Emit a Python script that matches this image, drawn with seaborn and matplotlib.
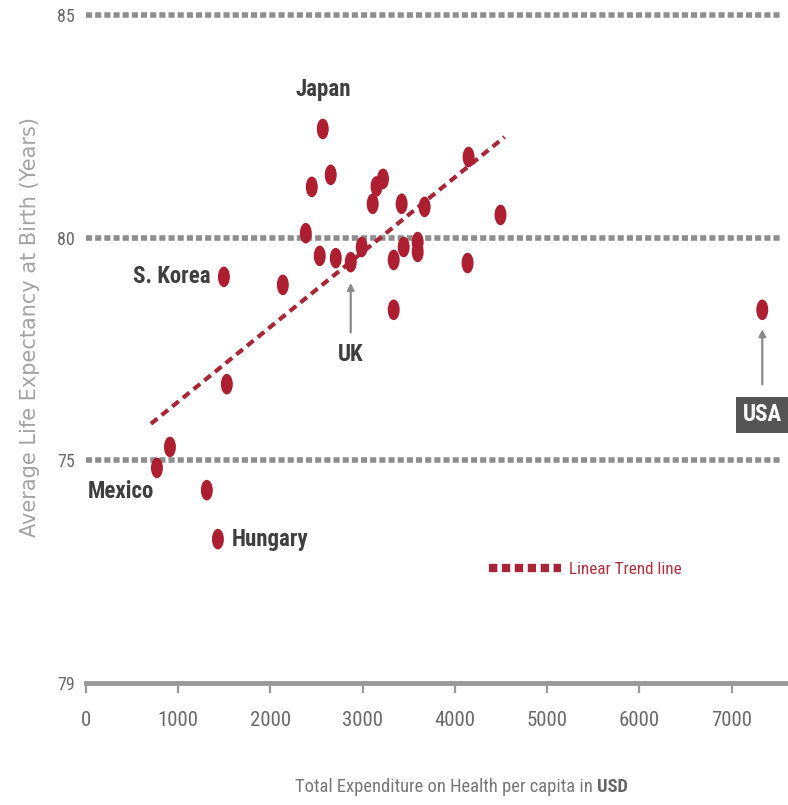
import matplotlib
matplotlib.use("Agg")
import matplotlib.pyplot as plt
import matplotlib.path as mpath
from matplotlib import font_manager
from matplotlib.transforms import Affine2D
from matplotlib.lines import Line2D
import seaborn as sns
import pandas as pd

# ─── Data ─────────────────────────────────────────────────────────────────────
countries = ["Japan", "", "", "", "", "", "", "", "", "", "",
             "", "", "UK", "", "", "", "", "", "", "", "",
             "S. Korea", "", "", "Mexico", "", "Hungary", "USA"]
spend = [2567, 2653, 2448, 3150, 3220, 3108, 3422, 3671, 4148, 4494, 2383,
         2534, 2708, 2870, 2989, 3336, 3444, 3596, 3596, 4137, 2134, 3336,
         1495, 1527, 910, 769, 1310, 1430, 7332]
life_exp = [82.44, 81.41, 81.14, 81.15, 81.32, 80.76, 80.76, 80.69, 81.81, 80.51, 80.10,
            79.59, 79.54, 79.45, 79.79, 79.50, 79.79, 79.90, 79.68, 79.43, 78.94, 78.38,
            79.12, 76.71, 75.30, 74.83, 74.33, 73.23, 78.38]

trend_x = [704, 4538]
trend_y = [75.82, 82.26]

y_ticks = [70, 75, 80, 85]
y_tick_labels = ["79", "75", "80", "85"]   # the source chart prints "79" at the bottom
x_ticks = [0, 1000, 2000, 3000, 4000, 5000, 6000, 7000]

df = pd.DataFrame({"country": countries, "spend": spend, "life": life_exp})

# ─── Style ────────────────────────────────────────────────────────────────────
sns.set_theme(style="white")

# pick a narrow face if one is around, else DejaVu condensed
installed = {f.name for f in font_manager.fontManager.ttflist}
NARROW = "DejaVu Sans"
for cand in ["Liberation Sans Narrow", "Roboto Condensed", "Open Sans Condensed",
             "Noto Sans Condensed", "DejaVu Sans Condensed"]:
    if cand in installed:
        NARROW = cand
        break
plt.rcParams["font.family"] = [NARROW, "DejaVu Sans"]
plt.rcParams["font.stretch"] = "condensed"

RED = "#AC1E30"
GRID = "#8e8e8e"
LABEL = "#3f3f3f"

fig = plt.figure(figsize=(7.88, 8.05), dpi=100)
ax = fig.add_axes([86 / 788, 122 / 805, 701 / 788, 681.4 / 805])

# reference lines
for yv in [75, 80, 85]:
    ax.axhline(yv, color=GRID, lw=4, ls=(0, (1.1, 0.55)), xmax=0.99, zorder=1)

# trend line
sns.lineplot(x=trend_x, y=trend_y, ax=ax, color="#A82638", lw=3,
             linestyle=(0, (2.0, 1.3)), zorder=2)

# points (slightly tall ellipses)
ell = mpath.Path.unit_circle().transformed(Affine2D().scale(0.58, 1.0))
sns.scatterplot(data=df, x="spend", y="life", ax=ax, color=RED, marker=ell,
                s=220, edgecolor="none", zorder=3, legend=False)

ax.set_xlim(0, 7600)
ax.set_ylim(70, 85.3)

# axes
for side in ["top", "right", "left"]:
    ax.spines[side].set_visible(False)
ax.spines["bottom"].set_color("#999999")
ax.spines["bottom"].set_linewidth(3.5)
ax.set_xticks(x_ticks)
ax.set_xticklabels([str(v) for v in x_ticks])
ax.set_yticks(y_ticks)
ax.set_yticklabels(y_tick_labels)
ax.tick_params(axis="x", bottom=True, length=7, width=1.6, color="#999999",
               pad=13, labelsize=15, labelcolor="#6a6a6a")
ax.tick_params(axis="y", left=False, length=0, pad=8, labelsize=13,
               labelcolor="#6a6a6a")
ax.set_xlabel("")
ax.set_ylabel("Average Life Expectancy at Birth (Years)", family="DejaVu Sans",
              fontstretch="normal", fontsize=15, color="#a3a3a3")
ax.yaxis.set_label_coords(-0.066, 0.523)

# x label with bold USD
fig.text(0.758, 0.022, "Total Expenditure on Health per capita in ", ha="right",
         va="center", fontsize=13.3, color="#777777")
fig.text(0.758, 0.022, "USD", ha="left", va="center", fontsize=13.3,
         color="#666666", fontweight="bold")

# country labels
def pt(name):
    r = df[df["country"] == name].iloc[0]
    return (r["spend"], r["life"])

lab = dict(fontsize=16.5, fontweight="bold", color=LABEL, textcoords="offset pixels")
ax.annotate("Japan", pt("Japan"), xytext=(0, 39), ha="center", va="center", **lab)
ax.annotate("S. Korea", pt("S. Korea"), xytext=(-13, 0), ha="right", va="center", **lab)
ax.annotate("Mexico", pt("Mexico"), xytext=(-36, -24), ha="center", va="center", **lab)
ax.annotate("Hungary", pt("Hungary"), xytext=(14, 0), ha="left", va="center", **lab)
ax.annotate("UK", pt("UK"), xytext=(0, -92), ha="center", va="center",
            arrowprops=dict(arrowstyle="-|>", color="#8a8a8a", lw=1.6,
                            mutation_scale=10, shrinkA=5, shrinkB=15), **lab)
usa = dict(lab)
usa["color"] = "white"
ax.annotate("USA", pt("USA"), xytext=(0, -105), ha="center", va="center",
            bbox=dict(boxstyle="square,pad=0.28", fc="#555555", ec="none"),
            arrowprops=dict(arrowstyle="-|>", color="#8a8a8a", lw=1.6,
                            mutation_scale=10, shrinkA=9, shrinkB=14), **usa)

# legend for trend line
handle = Line2D([], [], color="#A82638", lw=6, ls=(0, (1.0, 0.55)))
leg = ax.legend([handle], ["Linear Trend line"], loc="center left",
                bbox_to_anchor=(0.575, 0.166), frameon=False, fontsize=12.3,
                handlelength=4.2, handletextpad=0.5, borderpad=0,
                borderaxespad=0)
for t in leg.get_texts():
    t.set_color("#B0303F")

fig.savefig("out.png", dpi=100)
